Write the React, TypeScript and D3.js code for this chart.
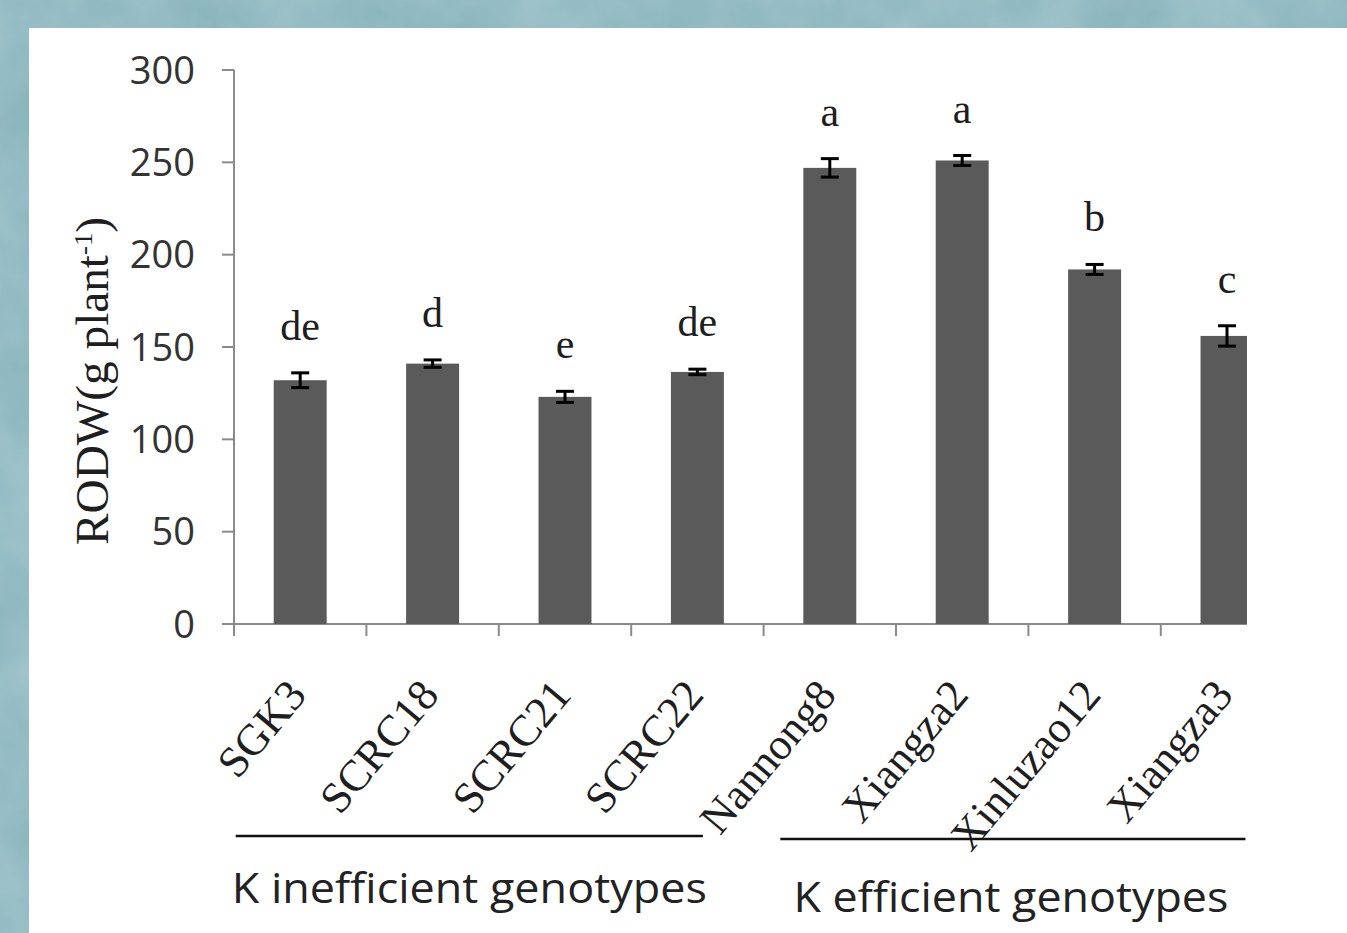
import React from "react";
import * as d3 from "d3";

const categories = ["SGK3", "SCRC18", "SCRC21", "SCRC22", "Nannong8", "Xiangza2", "Xinluzao12", "Xiangza3"];
const means = [132, 141, 123, 136.5, 247, 251, 192, 156];
const errors = [4, 2, 3, 1.5, 5, 2.7, 2.7, 5.5];
const letters = ["de", "d", "e", "de", "a", "a", "b", "c"];
const yTicks = [0, 50, 100, 150, 200, 250, 300];
const groupLabels = ["K inefficient genotypes", "K efficient genotypes"];
const groupMembers = [
  ["SGK3", "SCRC18", "SCRC21", "SCRC22"],
  ["Nannong8", "Xiangza2", "Xinluzao12", "Xiangza3"],
];
const yTitle = "RODW(g plant";

const W = 1347;
const H = 933;

export default function App() {
  const left = 234;
  const step = 132.4;
  const y = d3.scaleLinear().domain([0, 300]).range([624, 70]);
  const x = d3
    .scaleBand<string>()
    .domain(categories)
    .range([left, left + step * categories.length])
    .paddingInner(0.6)
    .paddingOuter(0.3);
  const bw = x.bandwidth();
  const plotRight = 1247;
  const axisColor = "#8a8a8a";
  const serif = "'Liberation Serif', 'Times New Roman', serif";
  const sans = "'Open Sans', 'DejaVu Sans', sans-serif";

  const xTickPos = categories.map((_, i) => left + i * x.step());

  const lineInset = [
    [-38, -21],
    [-23, -8],
  ];
  const groupLineY = [836, 839];
  const groupTextY = [903, 912];
  const groupTextLen = [475, 435];

  return (
    <div style={{ position: "absolute", left: 0, top: 0 }}>
      <svg width={W} height={H} style={{ display: "block" }}>
        <defs>
          <filter id="marble" x="0" y="0" width="100%" height="100%">
            <feTurbulence type="fractalNoise" baseFrequency="0.012" numOctaves="4" seed="3" result="n" />
            <feColorMatrix
              in="n"
              type="matrix"
              values="0 0 0 0 0.47  0 0 0 0 0.64  0 0 0 0 0.70  0 0 0 -1.4 1.1"
            />
          </filter>
          <clipPath id="plotclip">
            <rect x={0} y={0} width={plotRight} height={H} />
          </clipPath>
        </defs>
        <rect x={0} y={0} width={W} height={H} fill="#8cb6be" />
        <rect x={0} y={0} width={W} height={H} filter="url(#marble)" opacity={0.6} />
        <rect x={29} y={28} width={W - 29} height={H - 28} fill="#ffffff" />

        {/* y axis */}
        <line x1={left} x2={left} y1={y(300)} y2={y(0)} stroke={axisColor} strokeWidth={2} />
        {yTicks.map((t) => (
          <g key={t}>
            <line x1={left - 12} x2={left} y1={y(t)} y2={y(t)} stroke={axisColor} strokeWidth={2} />
            <text
              x={195}
              y={y(t)}
              dy="0.36em"
              textAnchor="end"
              fontFamily={sans}
              fontSize={38}
              fill="#333"
            >
              {t}
            </text>
          </g>
        ))}
        <text
          transform={`translate(108, 381) rotate(-90)`}
          textAnchor="middle"
          fontFamily={serif}
          fontSize={46}
          fill="#1e1e1e"
          textLength={328}
          lengthAdjust="spacingAndGlyphs"
        >
          {yTitle}
          <tspan dy={-16} fontSize={26}>-1</tspan>
          <tspan dy={16}>)</tspan>
        </text>

        <g clipPath="url(#plotclip)">
          {/* x axis */}
          <line x1={left} x2={plotRight} y1={y(0)} y2={y(0)} stroke={axisColor} strokeWidth={2} />
          {xTickPos.map((p, i) => (
            <line key={i} x1={p} x2={p} y1={y(0)} y2={y(0) + 12} stroke={axisColor} strokeWidth={2} />
          ))}
          {/* bars */}
          {categories.map((c, i) => (
            <rect
              key={c}
              x={x(c)}
              y={y(means[i])}
              width={bw}
              height={y(0) - y(means[i])}
              fill="#5a5a5a"
            />
          ))}
        </g>

        {/* error bars */}
        {categories.map((c, i) => {
          const cx = (x(c) as number) + bw / 2;
          const top = y(means[i] + errors[i]);
          const bot = y(means[i] - errors[i]);
          return (
            <g key={c} stroke="#000" strokeWidth={3}>
              <line x1={cx} x2={cx} y1={top} y2={bot} />
              <line x1={cx - 9} x2={cx + 9} y1={top} y2={top} />
              <line x1={cx - 9} x2={cx + 9} y1={bot} y2={bot} />
            </g>
          );
        })}

        {/* significance letters */}
        {categories.map((c, i) => {
          const cx = (x(c) as number) + bw / 2;
          return (
            <text
              key={c}
              x={cx}
              y={y(means[i] + errors[i]) - 33}
              textAnchor="middle"
              fontFamily={serif}
              fontSize={42}
              fill="#1e1e1e"
            >
              {letters[i]}
            </text>
          );
        })}

        {/* category labels */}
        {categories.map((c) => {
          const cx = (x(c) as number) + bw / 2;
          return (
            <text
              key={c}
              transform={`translate(${cx + 8}, 696) rotate(-50)`}
              textAnchor="end"
              fontFamily={serif}
              fontSize={44}
              fill="#1e1e1e"
            >
              {c}
            </text>
          );
        })}

        {/* group lines & labels */}
        {groupMembers.map((m, gi) => {
          const x1 = (x(m[0]) as number) + lineInset[gi][0];
          const x2 = (x(m[m.length - 1]) as number) + bw + lineInset[gi][1];
          const gx2 = Math.min(x2, plotRight);
          return (
            <g key={gi}>
              <line x1={x1} x2={gx2} y1={groupLineY[gi]} y2={groupLineY[gi]} stroke="#111" strokeWidth={2.5} />
              <text
                x={(x1 + gx2) / 2 + (gi === 0 ? 0 : -2)}
                y={groupTextY[gi]}
                textAnchor="middle"
                fontFamily={sans}
                fontSize={42}
                fill="#222"
                textLength={groupTextLen[gi]}
                lengthAdjust="spacingAndGlyphs"
              >
                {groupLabels[gi]}
              </text>
            </g>
          );
        })}
      </svg>
    </div>
  );
}
